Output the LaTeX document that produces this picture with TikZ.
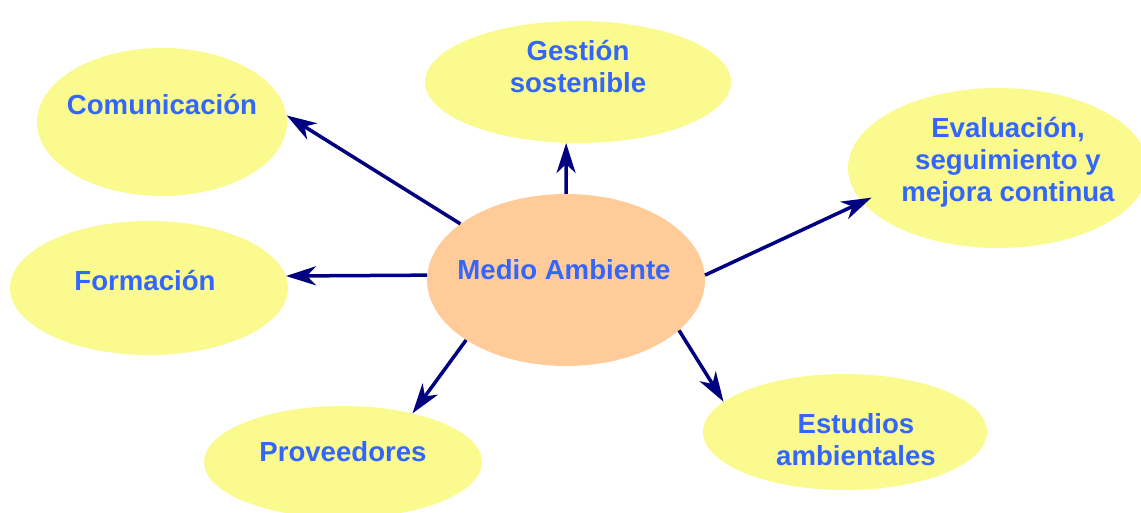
\documentclass[tikz,border=0pt]{standalone}
\usepackage{fontspec}
\setmainfont{Liberation Sans}
\usetikzlibrary{shapes.geometric,arrows.meta}
\definecolor{ylw}{HTML}{FAFA8E}
\definecolor{org}{HTML}{FFCC99}
\definecolor{txtblue}{HTML}{3366FF}
\definecolor{navy}{HTML}{000080}
\tikzset{
  bubble/.style={ellipse, fill=ylw, draw=none, inner sep=0pt},
  center/.style={ellipse, fill=org, draw=none, inner sep=0pt},
  lbl/.style={text=txtblue, font=\fontsize{27.6}{32}\selectfont\bfseries, align=center, inner sep=0pt},
  conn/.style={navy, line width=3.5pt, -{Stealth[length=30pt,width=19pt,inset=9pt]}}
}
\begin{document}
\begin{tikzpicture}[x=1pt,y=-1pt]
\clip (0,0) rectangle (1141,513);
\useasboundingbox (0,0) rectangle (1141,513);
% ellipses
\node[bubble, minimum width=250pt, minimum height=148pt] (com) at (162,122) {};
\node[bubble, minimum width=306pt, minimum height=122pt] (ges) at (578,82) {};
\node[bubble, minimum width=300pt, minimum height=160pt] (eva) at (998,168) {};
\node[bubble, minimum width=278pt, minimum height=134pt] (for) at (149,288) {};
\node[bubble, minimum width=278pt, minimum height=112pt] (pro) at (343,462) {};
\node[bubble, minimum width=284pt, minimum height=116pt] (est) at (845,432) {};
\node[center, minimum width=278pt, minimum height=172pt] (ma) at (566,280) {};
% labels
\node[lbl] (tcom) at (162,105) {Comunicación};
\node[lbl] (tges) at (578,67) {Gestión\\sostenible};
\node[lbl] (teva) at (1008,162) {Evaluación,\\seguimiento y\\mejora continua};
\node[lbl] (tfor) at (145,281) {Formación};
\node[lbl] (tpro) at (343,452) {Proveedores};
\node[lbl] (test) at (856,440) {Estudios\\ambientales};
\node[lbl] (tma) at (564,270) {Medio Ambiente};
% connectors
\draw[conn] (ma.152) -- (com.3);
\draw[conn] (ma.90) -- (ges.-101);
\draw[conn] (ma.2) -- ([shift={(13pt,0pt)}]eva.192);
\draw[conn] (ma.178) -- (for.5);
\draw[conn] (ma.211) -- (pro.35);
\draw[conn] (ma.-24) -- (est.166);
\end{tikzpicture}
\end{document}
